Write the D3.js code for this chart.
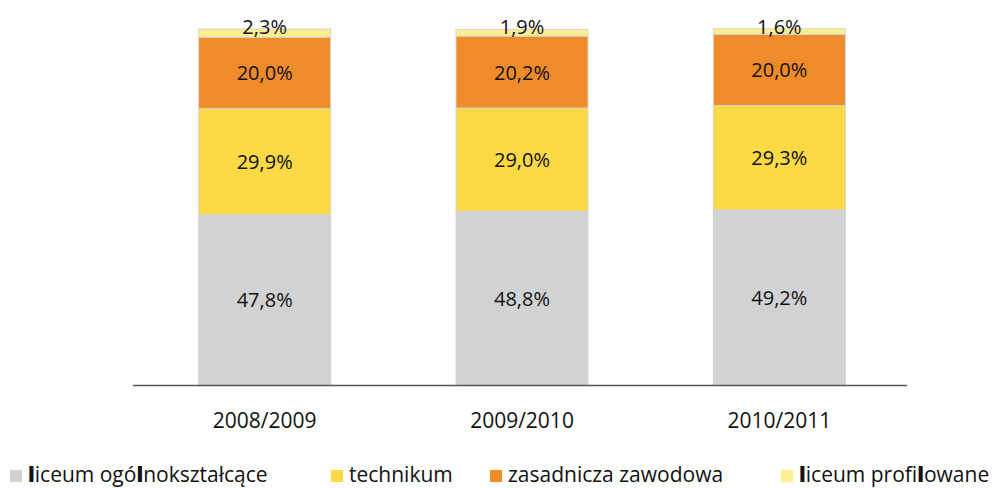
<!DOCTYPE html>
<html><head><meta charset="utf-8">
<script src="https://cdn.jsdelivr.net/npm/d3@7"></script>
<style>body{margin:0;background:#fff}svg{display:block}text{font-family:"Open Sans",sans-serif;fill:#111}</style>
</head><body><svg id="c" width="995" height="488"></svg>
<script>
const categories = ["2008/2009","2009/2010","2010/2011"];
const seriesNames = ["liceum ogólnokształcące","technikum","zasadnicza zawodowa","liceum profilowane"];
const liceumOgolno = [47.8, 48.8, 49.2];
const technikum = [29.9, 29.0, 29.3];
const zasadnicza = [20.0, 20.2, 20.0];
const liceumProfil = [2.3, 1.9, 1.6];
const colors = ["#d1d2d4","#fdd944","#f08b29","#fdee90"];

const svg = d3.select("#c");
const data = categories.map((c,i)=>({cat:c, s0:liceumOgolno[i], s1:technikum[i], s2:zasadnicza[i], s3:liceumProfil[i]}));
const keys = ["s0","s1","s2","s3"];
const stack = d3.stack().keys(keys)(data);

const x = d3.scaleBand().domain(categories).range([136,908]).paddingInner(0.487).paddingOuter(0.2435);
const y = d3.scaleLinear().domain([0,100]).range([385,29]);

const fmt = v => d3.format(".1f")(v).replace(".",",")+"%";

const g = svg.append("g");
stack.forEach((layer,li)=>{
  g.selectAll(null).data(layer).enter().append("rect")
    .attr("x",d=>x(d.data.cat)).attr("width",x.bandwidth())
    .attr("y",d=>y(d[1])).attr("height",d=>y(d[0])-y(d[1]))
    .attr("fill",colors[li]).attr("stroke","#d4d4d4").attr("stroke-width",1);
});
// labels
stack.forEach((layer,li)=>{
  g.selectAll(null).data(layer).enter().append("text")
    .attr("x",d=>x(d.data.cat)+x.bandwidth()/2)
    .attr("y",d=> li===3 ? y(d[1])+5 : (y(d[0])+y(d[1]))/2+7.5)
    .attr("text-anchor","middle").attr("font-size",20)
    .text(d=>fmt(d[1]-d[0]));
});
// axis
const xa = svg.append("g").attr("transform","translate(0,385)")
  .call(d3.axisBottom(x).tickSize(0).tickPadding(28));
xa.select(".domain").remove();
xa.selectAll("text").attr("font-size",21).attr("font-family","'Open Sans',sans-serif").attr("fill","#111");
svg.append("line").attr("x1",133).attr("x2",907).attr("y1",385.5).attr("y2",385.5).attr("stroke","#555").attr("stroke-width",1.5);

// legend
const legX = [10,331,490,781];
seriesNames.forEach((n,i)=>{
  const lg = svg.append("g");
  lg.append("rect").attr("x",legX[i]).attr("y",470).attr("width",12).attr("height",12).attr("fill",colors[i]);
  const t = lg.append("text").attr("x",legX[i]+18).attr("y",482).attr("font-size",21);
  // the reference font renders plain "l" heavier; mimic with bold tspans
  const parts = n.split(/(l)/);
  parts.forEach(p=>{ if(p==="") return; t.append("tspan").attr("font-weight", p==="l" ? 800 : 400).text(p); });
});
</script></body></html>
